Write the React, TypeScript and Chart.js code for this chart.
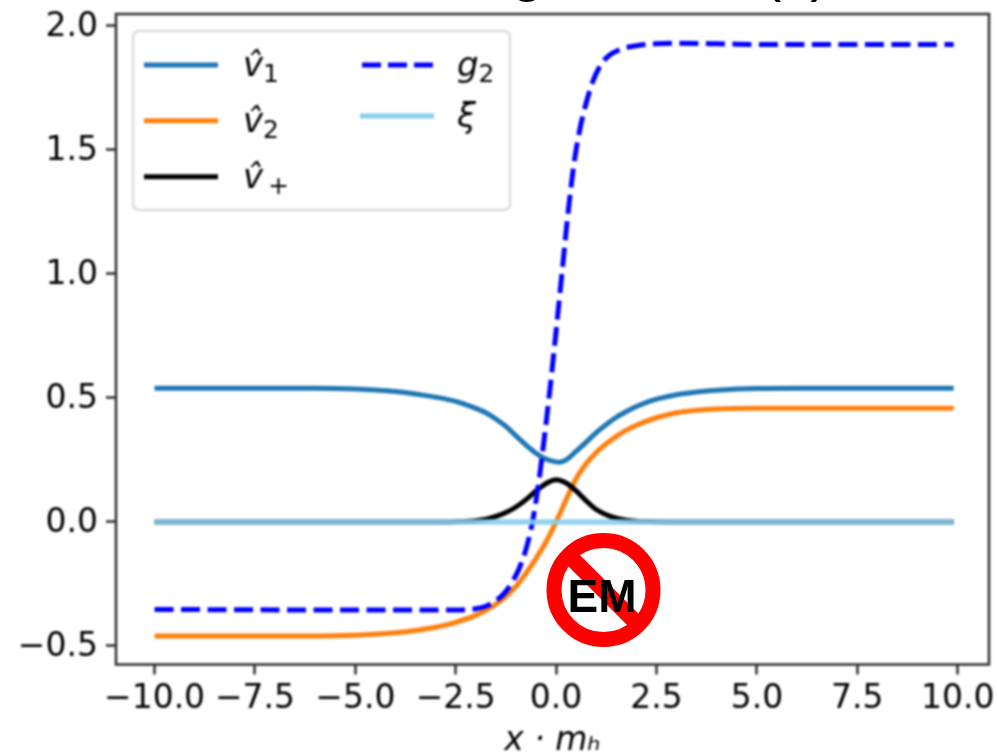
import React, { useEffect, useRef } from "react";
import { Chart, registerables } from "chart.js";

Chart.register(...registerables);

const v1X = [-10, -6, -5, -4.5, -4, -3.5, -3, -2.5, -2.25, -2, -1.75, -1.5, -1.25, -1, -0.75, -0.5, -0.25, 0, 0.08, 0.25, 0.5, 0.75, 1, 1.25, 1.5, 1.75, 2, 2.25, 2.5, 3, 3.5, 4, 5, 6, 9.9];
const v1Y = [0.539, 0.539, 0.536, 0.532, 0.526, 0.516, 0.503, 0.486, 0.473, 0.458, 0.44, 0.415, 0.385, 0.347, 0.31, 0.277, 0.253, 0.242, 0.241, 0.25, 0.285, 0.322, 0.36, 0.393, 0.422, 0.445, 0.465, 0.482, 0.495, 0.513, 0.524, 0.531, 0.538, 0.539, 0.539];
const v2X = [-10, -6, -5, -4.5, -4, -3.5, -3, -2.5, -2, -1.75, -1.5, -1.25, -1, -0.75, -0.5, -0.25, 0, 0.25, 0.5, 0.75, 1, 1.25, 1.5, 1.75, 2, 2.5, 3, 3.5, 4, 5, 6, 9.9];
const v2Y = [-0.46, -0.46, -0.457, -0.453, -0.447, -0.438, -0.425, -0.405, -0.377, -0.357, -0.332, -0.3, -0.26, -0.207, -0.147, -0.08, 0, 0.09, 0.175, 0.235, 0.28, 0.315, 0.345, 0.37, 0.39, 0.42, 0.44, 0.45, 0.455, 0.458, 0.458, 0.458];
const vPlusX = [-10, -3, -2.5, -2, -1.75, -1.5, -1.25, -1, -0.75, -0.5, -0.25, 0, 0.25, 0.5, 0.75, 1, 1.25, 1.5, 1.75, 2, 2.5, 3, 9.9];
const vPlusY = [0, 0, 0.001, 0.005, 0.011, 0.022, 0.038, 0.06, 0.09, 0.125, 0.155, 0.17, 0.157, 0.125, 0.085, 0.05, 0.029, 0.015, 0.007, 0.003, 0.001, 0, 0];
const g2X = [-10, -6, -3, -2.5, -2.25, -2, -1.75, -1.5, -1.25, -1, -0.9, -0.75, -0.6, -0.45, -0.3, -0.15, 0, 0.15, 0.3, 0.45, 0.6, 0.75, 0.9, 1.1, 1.3, 1.6, 2, 2.5, 3, 4, 5, 9.9];
const g2Y = [-0.353, -0.355, -0.355, -0.355, -0.354, -0.35, -0.34, -0.318, -0.28, -0.215, -0.18, -0.11, -0.01, 0.14, 0.33, 0.54, 0.77, 1.01, 1.25, 1.45, 1.59, 1.69, 1.77, 1.84, 1.878, 1.905, 1.92, 1.928, 1.93, 1.928, 1.925, 1.925];
const xiX = [-10, -5, 0, 5, 9.9];
const xiY = [0, 0, 0, 0, 0];

const XMIN = -10.96;
const XMAX = 10.78;
const YMIN = -0.575;
const YMAX = 2.048;
const MONO = "'DejaVu Sans'";
const AXIS = "#2e2e2e";
const TICK_FONT = 33;

const pairs = (xs: number[], ys: number[]) => xs.map((x, i) => ({ x, y: ys[i] }));

const legendEntries = [
  { base: "v\u0302", sub: "1", color: "#1f77b4", dash: [] as number[], x1: 144, x2: 218, y: 65, tx: 243, ty: 76 },
  { base: "v\u0302", sub: "2", color: "#ff7f0e", dash: [], x1: 144, x2: 218, y: 120.7, tx: 243, ty: 132 },
  { base: "v\u0302", sub: "+", color: "#000000", dash: [], x1: 144, x2: 218, y: 176.7, tx: 243, ty: 188 },
  { base: "g", sub: "2", color: "#0000ff", dash: [19, 7], x1: 362, x2: 433, y: 65, tx: 457, ty: 76 },
  { base: "\u03be", sub: "", color: "#87ceeb", dash: [], x1: 360, x2: 434, y: 116, tx: 457, ty: 127 },
];

const framePlugin = {
  id: "frame",
  afterDraw(chart: any) {
    const { ctx, chartArea: a } = chart;
    ctx.save();
    ctx.strokeStyle = AXIS;
    ctx.lineWidth = 2.5;
    ctx.strokeRect(a.left, a.top, a.right - a.left, a.bottom - a.top);

    ctx.fillStyle = "rgba(255,255,255,0.8)";
    ctx.strokeStyle = "#dcdcdc";
    ctx.lineWidth = 2.5;
    ctx.beginPath();
    ctx.roundRect(133, 31, 377, 179, 6);
    ctx.fill();
    ctx.stroke();

    for (const e of legendEntries) {
      ctx.strokeStyle = e.color;
      ctx.lineWidth = 5;
      ctx.setLineDash(e.dash);
      ctx.beginPath();
      ctx.moveTo(e.x1, e.y);
      ctx.lineTo(e.x2, e.y);
      ctx.stroke();
      ctx.setLineDash([]);
      ctx.fillStyle = "#000";
      ctx.textAlign = "left";
      ctx.textBaseline = "alphabetic";
      ctx.font = `italic 34px ${MONO}`;
      ctx.fillText(e.base, e.tx, e.ty);
      const w = ctx.measureText(e.base.charAt(0)).width;
      if (e.sub) {
        ctx.font = `25px ${MONO}`;
        ctx.fillText(e.sub, e.tx + w + (e.sub === "+" ? 5 : 0), e.ty + 6);
      }
    }
    ctx.restore();
  },
};

export default function App() {
  const ref = useRef<HTMLCanvasElement>(null);
  useEffect(() => {
    const line = (label: string, xs: number[], ys: number[], color: string, order: number, extra: any = {}) => ({
      label,
      data: pairs(xs, ys),
      borderColor: color,
      backgroundColor: color,
      borderWidth: 5,
      pointRadius: 0,
      cubicInterpolationMode: "monotone" as const,
      order,
      ...extra,
    });
    const chart = new Chart(ref.current!, {
      type: "line",
      data: {
        datasets: [
          line("v\u0302\u2081", v1X, v1Y, "#1f77b4", 5),
          line("v\u0302\u2082", v2X, v2Y, "#ff7f0e", 4),
          line("v\u0302\u208a", vPlusX, vPlusY, "#000000", 3),
          line("g\u2082", g2X, g2Y, "#0000ff", 2, { borderDash: [19, 7.5] }),
          line("\u03be", xiX, xiY, "rgba(135,206,235,0.9)", 1, { borderWidth: 5.5 }),
        ],
      },
      plugins: [framePlugin],
      options: {
        animation: false,
        responsive: false,
        layout: { autoPadding: false, padding: { top: 14, right: 8, left: 0, bottom: 0 } },
        plugins: { legend: { display: false }, title: { display: false }, tooltip: { enabled: false } },
        scales: {
          x: {
            type: "linear",
            min: XMIN,
            max: XMAX,
            afterFit: (s: any) => { s.height = 88.5; s.paddingLeft = 0; s.paddingRight = 0; },
            border: { display: false },
            grid: { drawOnChartArea: false, drawTicks: true, tickLength: 10, tickWidth: 2.5, tickColor: AXIS },
            ticks: {
              stepSize: 2.5,
              includeBounds: false,
              autoSkip: false,
              maxRotation: 0,
              minRotation: 0,
              padding: 5,
              color: "#000",
              font: { family: MONO, size: TICK_FONT },
              callback: (v: any) => Number(v).toFixed(1).replace("-", "\u2212"),
            },
            title: {
              display: true,
              text: "x \u00b7 m\u2095",
              color: "#000",
              padding: { top: 0, bottom: -8 },
              font: { family: MONO, size: 33, style: "italic" },
            },
          },
          y: {
            type: "linear",
            min: YMIN,
            max: YMAX,
            afterFit: (s: any) => { s.width = 116; s.paddingTop = 0; s.paddingBottom = 0; },
            border: { display: false },
            grid: { drawOnChartArea: false, drawTicks: true, tickLength: 10, tickWidth: 2.5, tickColor: AXIS },
            ticks: {
              stepSize: 0.5,
              includeBounds: false,
              autoSkip: false,
              padding: 8,
              labelOffset: 2,
              color: "#000",
              font: { family: MONO, size: TICK_FONT },
              callback: (v: any) => Number(v).toFixed(1).replace("-", "\u2212"),
            },
          },
        },
      },
    } as any);
    return () => chart.destroy();
  }, []);

  return (
    <div style={{ position: "fixed", left: 0, top: 0, width: 997, height: 753, overflow: "hidden", background: "#fff" }}>
      <canvas ref={ref} width={997} height={753} style={{ position: "absolute", left: 0, top: 0, width: 997, height: 753, filter: "blur(0.8px)" }} />
      <span style={{ position: "absolute", left: 511, top: -63, font: "58px 'Liberation Sans'", color: "#000", lineHeight: "66px" }}>g</span>
      <span style={{ position: "absolute", left: 762, top: -63, font: "58px 'Liberation Sans'", color: "#000", lineHeight: "66px" }}>(x)</span>
      <svg width={997} height={753} style={{ position: "absolute", left: 0, top: 0 }}>
        <circle cx={603.5} cy={590} r={49.5} fill="none" stroke="#ff0000" strokeWidth={15} />
        <line x1={572} y1={558.5} x2={635} y2={621.5} stroke="#ff0000" strokeWidth={16} />
        <text x={602} y={611.5} textAnchor="middle" fontFamily="'Liberation Sans'" fontWeight="bold" fontSize={46} fill="#000">EM</text>
      </svg>
    </div>
  );
}
